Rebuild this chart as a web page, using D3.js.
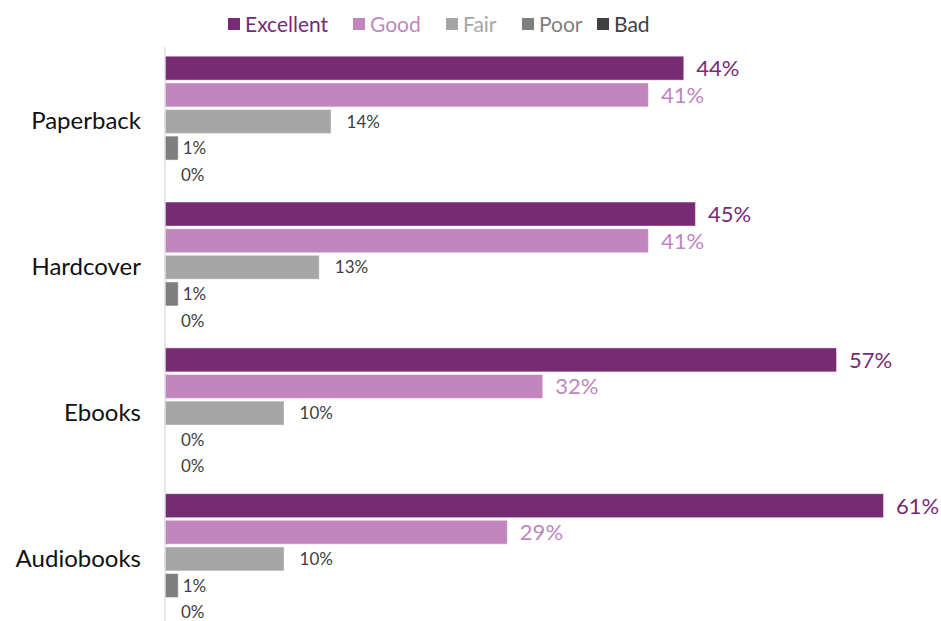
<!DOCTYPE html>
<html>
<head>
<meta charset="utf-8">
<script src="https://cdn.jsdelivr.net/npm/d3@7/dist/d3.min.js"></script>
<style>
  html, body { margin: 0; padding: 0; background: #fff; }
  svg { display: block; font-family: Lato, "Open Sans", sans-serif; }
</style>
</head>
<body>
<svg id="chart" width="941" height="621"></svg>
<script>
// Book format ratings, percent of respondents
const categories = ["Paperback", "Hardcover", "Ebooks", "Audiobooks"];
const series = ["Excellent", "Good", "Fair", "Poor", "Bad"];
const excellent = [44, 45, 57, 61];
const good = [41, 41, 32, 29];
const fair = [14, 13, 10, 10];
const poor = [1, 1, 0, 1];
const bad = [0, 0, 0, 0];
const colors = ["#772B73", "#BF87BE", "#A6A6A6", "#7F7F7F", "#404040"];
const labelColors = ["#772B73", "#BF87BE", "#404040", "#404040", "#404040"];

const valuesBySeries = [excellent, good, fair, poor, bad];
const rows = [];
categories.forEach((c, ci) => {
  series.forEach((s, si) => {
    rows.push({ category: c, series: s, si, value: valuesBySeries[si][ci] });
  });
});

const svg = d3.select("#chart");

const x = d3.scaleLinear().domain([0, 61]).range([166, 883]);
const y0 = d3.scaleBand().domain(categories).range([48.6, 631.8]).padding(0);
const y1 = d3.scaleBand().domain(series).range([8.2, 137.6]).paddingInner(0.14).paddingOuter(0);
const color = d3.scaleOrdinal().domain(series).range(colors);
const labelColor = d3.scaleOrdinal().domain(series).range(labelColors);

// Category axis (vertical line with labels, no ticks)
const yAxis = d3.axisLeft(y0).tickSize(0).tickPadding(24);
const gAxis = svg.append("g")
  .attr("transform", `translate(${x(0) - 1},0)`)
  .call(yAxis);
gAxis.select(".domain").attr("stroke", "#D9D9D9").attr("stroke-width", 1.2)
  .attr("d", `M0,47V640`);
gAxis.selectAll(".tick text")
  .attr("font-family", "Lato, sans-serif")
  .attr("font-size", 24)
  .attr("fill", "#111");

// Bars
const groups = svg.append("g").selectAll("g")
  .data(categories)
  .join("g")
  .attr("transform", d => `translate(0,${y0(d)})`);

groups.selectAll("rect")
  .data(c => rows.filter(r => r.category === c))
  .join("rect")
  .attr("x", x(0))
  .attr("y", d => y1(d.series))
  .attr("width", d => x(d.value) - x(0))
  .attr("height", y1.bandwidth())
  .attr("fill", d => color(d.series))
  .attr("stroke", d => color(d.series))
  .attr("stroke-opacity", 0.6)
  .attr("stroke-width", 1);

// Value labels
groups.selectAll("text.val")
  .data(c => rows.filter(r => r.category === c))
  .join("text")
  .attr("class", "val")
  .attr("x", d => d.si < 2 ? x(d.value) + 13 : d.si === 2 ? x(d.value) + 16 : Math.max(x(d.value) + 5, x(0) + 15))
  .attr("y", d => y1(d.series) + y1.bandwidth() / 2)
  .attr("dy", "0.36em")
  .attr("font-size", d => d.si < 2 ? 22 : 17)
  .attr("fill", d => labelColor(d.series))
  .text(d => d.value + "%");

// Legend
const legendX = [228, 353, 446, 522, 597];
const legend = svg.append("g").selectAll("g")
  .data(series)
  .join("g")
  .attr("transform", (d, i) => `translate(${legendX[i]},18)`);
legend.append("rect")
  .attr("width", 12).attr("height", 12)
  .attr("fill", d => color(d));
legend.append("text")
  .attr("x", 17).attr("y", 6).attr("dy", "0.36em")
  .attr("font-size", 21)
  .attr("fill", d => color(d))
  .text(d => d);
</script>
</body>
</html>
